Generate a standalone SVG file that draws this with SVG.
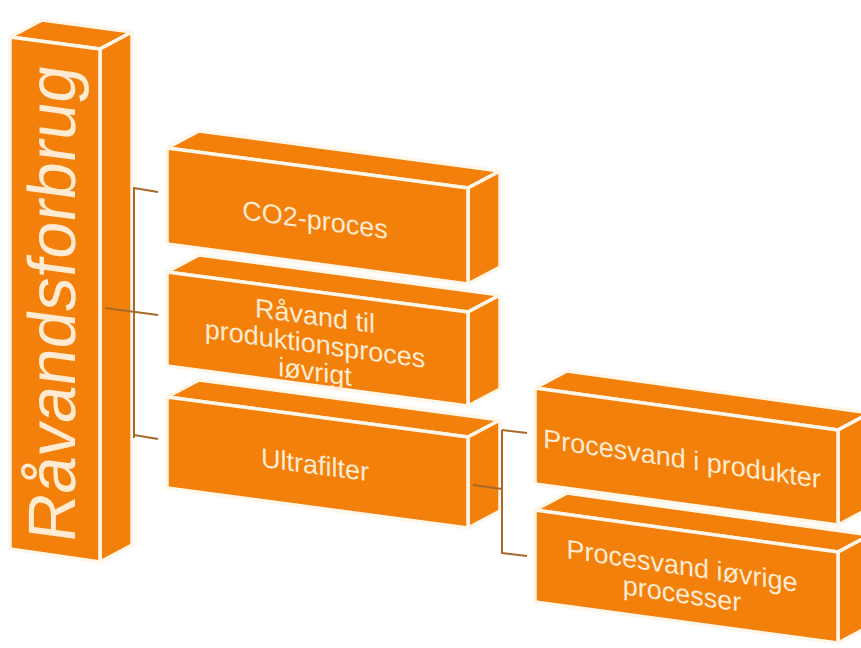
<svg xmlns="http://www.w3.org/2000/svg" width="861" height="648" viewBox="0 0 861 648">
<style>
.f{fill:#F2800A;stroke:#FFF6EA;stroke-width:3.5;stroke-linejoin:round}
.t{font-family:"Liberation Sans",Arial,sans-serif;fill:#FFEBD2;text-anchor:middle}
.s{font-size:27px}
.c{fill:none;stroke:#A8692C;stroke-width:2;stroke-linecap:butt}
</style>
<rect width="861" height="648" fill="#FFFFFF"/>
<g id="node-ravandsforbrug">
<polygon class="f" points="10,37 100,49 132,32 42,20"/>
<polygon class="f" points="100,49 132,32 132,545 100,562"/>
<polygon class="f" points="10,37 100,49 100,562 10,549"/>
<text class="t" font-size="67" transform="translate(75,306) skewY(7.7) rotate(-90)">Råvandsforbrug</text>
</g>
<g id="node-procesvand-ovrige">
<polygon class="f" points="535,510 838,552 870,535 567,493"/>
<polygon class="f" points="838,552 870,535 870,626 838,643"/>
<polygon class="f" points="535,510 838,552 838,643 535,602"/>
<text class="t s" transform="translate(682,575) skewY(8.3)"><tspan x="0" y="0">Procesvand iøvrige</tspan><tspan x="0" y="28">processer</tspan></text>
</g>
<g id="node-procesvand-produkter">
<polygon class="f" points="535,388 838,430 870,413 567,371"/>
<polygon class="f" points="838,430 870,413 870,508 838,525"/>
<polygon class="f" points="535,388 838,430 838,525 535,484"/>
<text class="t s" transform="translate(682,468) skewY(8.3)">Procesvand i produkter</text>
</g>
<g id="node-ultrafilter">
<polygon class="f" points="167,397 468,437 500,420 199,380"/>
<polygon class="f" points="468,437 500,420 500,511 468,528"/>
<polygon class="f" points="167,397 468,437 468,528 167,488"/>
<text class="t s" transform="translate(315,474) skewY(7.7)">Ultrafilter</text>
</g>
<g id="node-ravand-produktion">
<polygon class="f" points="167,272 468,312 500,295 199,255"/>
<polygon class="f" points="468,312 500,295 500,389 468,406"/>
<polygon class="f" points="167,272 468,312 468,406 167,366"/>
<text class="t s" transform="translate(315,353) skewY(7.7)"><tspan x="0" y="-28">Råvand til</tspan><tspan x="0" y="0">produktionsproces</tspan><tspan x="0" y="28">iøvrigt</tspan></text>
</g>
<g id="node-co2">
<polygon class="f" points="167,148 468,188 500,171 199,131"/>
<polygon class="f" points="468,188 500,171 500,267 468,284"/>
<polygon class="f" points="167,148 468,188 468,284 167,244"/>
<text class="t s" transform="translate(315,229) skewY(7.7)">CO2-proces</text>
</g>
<g id="connectors">
<line class="c" x1="134" y1="187" x2="134" y2="438"/>
<line class="c" x1="134" y1="188" x2="158" y2="192"/>
<line class="c" x1="105" y1="308" x2="158" y2="315"/>
<line class="c" x1="134" y1="435" x2="158" y2="439"/>
<line class="c" x1="502" y1="430" x2="502" y2="554"/>
<line class="c" x1="502" y1="430" x2="527" y2="433"/>
<line class="c" x1="473" y1="485" x2="502" y2="489"/>
<line class="c" x1="502" y1="553" x2="527" y2="556"/>
</g>
</svg>
